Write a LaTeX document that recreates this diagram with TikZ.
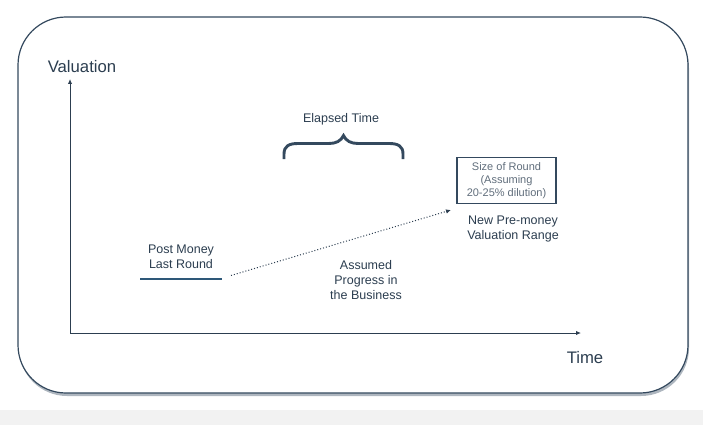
\documentclass[tikz,border=0pt]{standalone}
\usepackage{fontspec}
\setmainfont{Liberation Sans}
\usetikzlibrary{arrows.meta,shadows}
\definecolor{ink}{HTML}{2C3E50}
\definecolor{frame}{HTML}{34495E}
\definecolor{blueline}{HTML}{2E5879}
\definecolor{band}{HTML}{F2F2F2}
\tikzset{
  lbl/.style={text=ink, align=center, inner sep=0pt, font=\fontsize{12.5}{15}\selectfont},
  axis/.style={draw=ink, line width=1pt, -{Latex[length=5pt,width=4.5pt]}},
  bracestroke/.style={draw=frame, line width=2.9pt, line cap=butt, line join=miter},
}
\begin{document}
\begin{tikzpicture}[x=1pt,y=-1pt]
\useasboundingbox (0,0) rectangle (703,425);
\fill[band] (0,410) rectangle (703,425);
% outer frame
\draw[frame, line width=1.2pt, rounded corners=48pt, fill=white,
  drop shadow={shadow xshift=1pt, shadow yshift=-3pt, opacity=0.4, fill=frame}]
  (18,17) rectangle (688,393);
% axes
\coordinate (O) at (70,333);
\coordinate (ytop) at (70,79);
\coordinate (xend) at (581,333);
\draw[axis] (O) -- (ytop);
\draw[axis] (O) -- (xend);
\node[lbl, font=\fontsize{16.7}{20}\selectfont] (val) at (82,67) {Valuation};
\node[lbl, font=\fontsize{16.7}{20}\selectfont] (time) at (585,358) {Time};
% elapsed time brace
\node[lbl] (elapsed) at (341,119) {Elapsed Time};
\coordinate (bl) at (284,159);
\coordinate (br) at (403,159);
\coordinate (tip) at (343.5,135.5);
\draw[bracestroke]
  (bl) -- (284,154) .. controls (284,146) and (289,143.5) .. (298,143.5)
  -- (329,143.5) .. controls (336,143.5) and (341,141) .. (tip)
  .. controls (346,141) and (351,143.5) .. (358,143.5)
  -- (389,143.5) .. controls (398,143.5) and (403,146) .. (403,154) -- (br);
% post money
\node[lbl] (post) at (181,257) {Post Money\\Last Round};
\coordinate (pl) at (140,279);
\coordinate (pr) at (222,279);
\draw[blueline, line width=2pt] (pl) -- (pr);
% box
\node[draw=frame, line width=1.5pt, minimum width=99pt, minimum height=46pt, inner sep=2pt,
  align=center, text=ink!75, font=\fontsize{11}{13}\selectfont,
  drop shadow={shadow xshift=0.8pt, shadow yshift=-1pt, opacity=0.3}, fill=white]
  (box) at (506.5,180.3) {Size of Round\\(Assuming\\20-25\% dilution)};
\node[lbl] (pre) at (513,228.5) {New Pre-money\\Valuation Range};
% dotted arrow
\coordinate (as) at (231,275.5);
\coordinate (ae) at (451,210);
\draw[ink, line width=1pt, dotted, -{Latex[length=5pt,width=4.5pt]}] (as) -- (ae);
\node[lbl] (prog) at (366,279.7) {Assumed\\Progress in\\the Business};
\end{tikzpicture}
\end{document}
